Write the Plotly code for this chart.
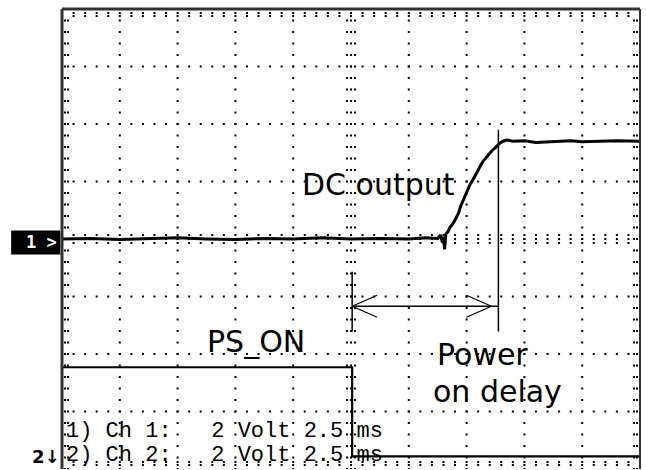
import numpy as np
import plotly.graph_objects as go

# ---- data (screen divisions: x 2.5 ms/div, y 2 V/div, centre = 5, 0) ----
ch1_x = [0.0, 0.5, 1.0, 1.5, 2.0, 2.5, 3.0, 3.5, 4.0, 4.5, 5.0, 5.5, 6.0, 6.3, 6.5,
         6.55, 6.58, 6.6, 6.62, 6.64, 6.68, 6.71, 6.76, 6.82, 6.86,
         6.90, 6.97, 7.02, 7.06, 7.11, 7.16, 7.20, 7.27, 7.31, 7.35,
         7.40, 7.44, 7.49, 7.53, 7.58, 7.63, 7.7, 7.8, 8.0, 8.2,
         8.5, 8.8, 9.0, 9.3, 9.6, 10.0]
ch1_y = [0, 0.01, -0.01, 0, 0.02, 0, -0.01, 0.01, 0, 0.02, 0, 0.01, 0, 0.02, 0.01,
         0.07, -0.06, 0.04, -0.18, 0.08, 0.13, 0.2, 0.26, 0.37, 0.45,
         0.58, 0.74, 0.86, 0.95, 1.03, 1.12, 1.21, 1.33, 1.38, 1.43,
         1.5, 1.54, 1.58, 1.62, 1.67, 1.70, 1.72, 1.70, 1.71, 1.68,
         1.70, 1.71, 1.69, 1.70, 1.71, 1.70]

ch2_x = [0.0, 5.02, 5.02, 10.0]
ch2_y = [-2.23, -2.23, -3.78, -3.78]

delay_start = 5.02
delay_end = 7.55
arrow_y = -1.17

labels = ["DC output", "PS_ON", "Power", "on delay"]
label_x = [5.48, 3.36, 7.27, 7.54]
label_y = [0.95, -1.78, -2.0, -2.66]

info_lines = ["1) Ch 1:   2 Volt 2.5 ms", "2) Ch 2:   2 Volt 2.5 ms"]
info_y = [-3.35, -3.76]

PXX = 57.8
PXY = 57.5

fig = go.Figure()

# ---- graticule (dotted) ----
gx, gy = [], []
minor_x = np.round(np.arange(0, 10.001, 0.2), 3)
minor_y = np.round(np.arange(-4, 4.001, 0.2), 3)
for mx in range(1, 10):
    for yy in minor_y:
        gx.append(mx); gy.append(yy)
for my in range(-3, 4):
    for xx in minor_x:
        gx.append(xx); gy.append(my)
# tick dots along centre axes
for yy in minor_y:
    for off in (-4, 4):
        gx.append(5 + off / PXX); gy.append(yy)
for xx in minor_x:
    for off in (-4, 4):
        gx.append(xx); gy.append(off / PXY)
# border ticks
for yy in minor_y:
    for off in (3, 6):
        gx.append(off / PXX); gy.append(yy)
        gx.append(10 - off / PXX); gy.append(yy)
for xx in minor_x:
    for off in (4, 7):
        gx.append(xx); gy.append(4 - off / PXY)
        gx.append(xx); gy.append(-4 + off / PXY)

fig.add_trace(go.Scatter(x=gx, y=gy, mode="markers",
                         marker=dict(symbol="square", size=2, color="black",
                                     line=dict(width=0)),
                         hoverinfo="skip", showlegend=False))

fig.add_trace(go.Scatter(x=ch2_x, y=ch2_y, mode="lines",
                         line=dict(color="black", width=2.2),
                         showlegend=False))
fig.add_trace(go.Scatter(x=ch1_x, y=ch1_y, mode="lines",
                         line=dict(color="black", width=3),
                         showlegend=False))

# ---- delay markers ----
shapes = []
shapes.append(dict(type="line", x0=delay_start, x1=delay_start, y0=-0.57, y1=-1.61,
                   line=dict(color="black", width=1.5)))
shapes.append(dict(type="line", x0=delay_end, x1=delay_end, y0=1.9, y1=-1.61,
                   line=dict(color="black", width=1.5)))
shapes.append(dict(type="line", x0=delay_start, x1=delay_end, y0=arrow_y, y1=arrow_y,
                   line=dict(color="black", width=1.5)))
hx, hy = 25 / PXX, 11 / PXY
for sgn in (1, -1):
    shapes.append(dict(type="line", x0=delay_start, y0=arrow_y, x1=delay_start + hx,
                       y1=arrow_y + sgn * hy, line=dict(color="black", width=1.2)))
    shapes.append(dict(type="line", x0=delay_end - 0.12, y0=arrow_y, x1=delay_end - 0.12 - hx,
                       y1=arrow_y + sgn * hy, line=dict(color="black", width=1.2)))

# border
shapes.append(dict(type="line", xref="paper", yref="paper", x0=0, x1=0, y0=0, y1=1,
                   line=dict(color="#333", width=3)))
shapes.append(dict(type="line", xref="paper", yref="paper", x0=0, x1=1, y0=1, y1=1,
                   line=dict(color="#333", width=3)))
shapes.append(dict(type="line", xref="paper", yref="paper", x0=1, x1=1, y0=0, y1=1,
                   line=dict(color="#333", width=2)))
# channel 1 marker box
shapes.append(dict(type="rect", xref="paper", yref="y", x0=-0.088, x1=-0.003,
                   y0=-0.27, y1=0.15, fillcolor="black", line=dict(width=0)))

annotations = []
for t, x, y in zip(labels, label_x, label_y):
    annotations.append(dict(text=t, x=x, y=y, xref="x", yref="y", showarrow=False,
                            font=dict(family="DejaVu Sans", size=30, color="black")))
for t, y in zip(info_lines, info_y):
    annotations.append(dict(text=t, x=0.03, y=y, xref="x", yref="y", xanchor="left",
                            showarrow=False,
                            font=dict(family="Liberation Mono, Courier New", size=22, color="black")))
annotations.append(dict(text="<b>1 &gt;</b>", x=-0.005, y=-0.06, xref="paper", yref="y",
                        xanchor="right", showarrow=False,
                        font=dict(family="DejaVu Sans Mono", size=17, color="white")))
annotations.append(dict(text="<b>2↓</b>", x=0.0, y=-3.78, xref="paper", yref="y",
                        xanchor="right", showarrow=False,
                        font=dict(family="DejaVu Sans", size=18, color="black")))

fig.update_layout(
    width=646, height=470,
    margin=dict(l=62, r=6, t=9, b=1),
    paper_bgcolor="white", plot_bgcolor="white",
    xaxis=dict(range=[0, 10], showgrid=False, zeroline=False, showticklabels=False,
               ticks="", fixedrange=True),
    yaxis=dict(range=[-4, 4], showgrid=False, zeroline=False, showticklabels=False,
               ticks="", fixedrange=True),
    shapes=shapes, annotations=annotations, showlegend=False,
)

fig.write_html("out.html", config={"displayModeBar": False},
               post_script="document.body.style.margin='0';document.body.style.overflow='hidden';")
